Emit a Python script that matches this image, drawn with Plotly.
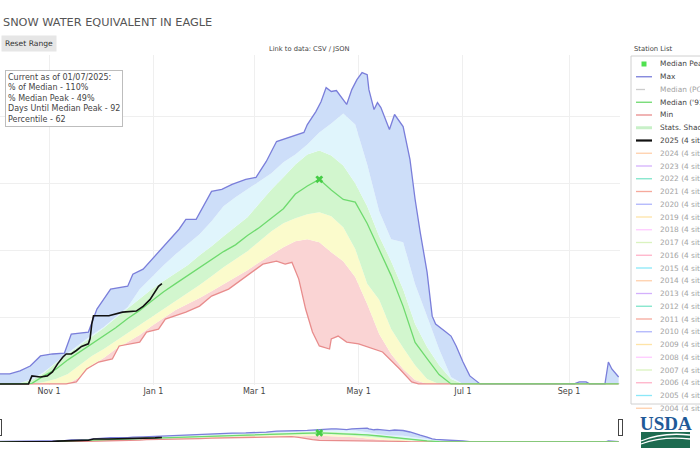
import plotly.graph_objects as go

# ---------------- data (inches of SWE) ----------------
band_dates = ["2024-10-01", "2024-10-08", "2024-10-15", "2024-10-22", "2024-10-29",
              "2024-11-05", "2024-11-12", "2024-11-19", "2024-11-26", "2024-12-03",
              "2024-12-10", "2024-12-17", "2024-12-24", "2024-12-31", "2025-01-07",
              "2025-01-14", "2025-01-21", "2025-01-28", "2025-02-04", "2025-02-11",
              "2025-02-18", "2025-02-25", "2025-03-04", "2025-03-11", "2025-03-18",
              "2025-03-25", "2025-04-01", "2025-04-08", "2025-04-15", "2025-04-22",
              "2025-04-29", "2025-05-06", "2025-05-13", "2025-05-20", "2025-05-27",
              "2025-06-03", "2025-06-10", "2025-06-17", "2025-06-24", "2025-07-01",
              "2025-07-08", "2025-09-30"]
p10 = [0, 0, 0, 0, 0, 0, 0, 0.52, 1.42, 1.94, 2.61, 3.13, 3.66, 4.33, 4.93,
       5.52, 5.97, 6.42, 6.94, 7.46, 7.99, 8.51, 9.1, 9.63, 10.22, 10.67, 10.82,
       10.6, 9.85, 9.18, 7.99, 5.97, 3.73, 2.24, 1.12, 0.3, 0, 0, 0, 0, 0, 0]
p30 = [0, 0, 0, 0, 0.15, 0.37, 0.75, 1.42, 2.09, 2.61, 3.21, 3.81, 4.4, 5.0, 5.6,
       6.19, 6.79, 7.39, 8.06, 8.73, 9.33, 9.93, 10.67, 11.42, 12.01, 12.39, 12.69,
       12.84, 12.54, 11.72, 10.1, 7.5, 6.3, 4.1, 2.7, 1.4, 0.37, 0, 0, 0, 0, 0]
median = [0, 0, 0, 0.04, 0.6, 1.1, 1.8, 2.4, 3.0, 3.6, 4.2, 4.9, 5.5, 6.2, 6.9,
          7.5, 8.1, 8.7, 9.3, 9.9, 10.4, 11.1, 11.7, 12.4, 13.1, 14.2, 14.8,
          15.3, 14.5, 13.8, 13.6, 12.0, 10.1, 8.1, 5.8, 3.1, 1.9, 0.7, 0, 0, 0, 0]
p70 = [0, 0, 0.07, 0.3, 0.82, 1.57, 2.24, 2.91, 3.58, 4.18, 4.93, 5.67, 6.34, 7.09, 7.69,
       8.28, 8.88, 9.63, 10.3, 11.04, 11.72, 12.46, 13.51, 14.55, 15.45, 16.42, 17.16,
       17.46, 17.09, 16.34, 15.0, 13.28, 11.04, 9.18, 7.09, 4.48, 2.76, 1.42, 0.37, 0, 0, 0]
p90 = [0, 0, 0.07, 0.37, 0.9, 1.64, 2.31, 2.99, 3.66, 4.25, 5.0, 5.75, 7.09, 7.99, 8.88,
       9.7, 10.45, 11.19, 12.16, 13.28, 13.96, 14.55, 15.15, 15.75, 16.57, 17.16, 17.91,
       18.81, 19.48, 20.22, 19.4, 16.42, 12.91, 10.82, 10.6, 7.46, 5.07, 2.61, 0.52, 0, 0, 0]

max_dates = ["2024-10-01", "2024-10-03", "2024-10-09", "2024-10-15", "2024-10-21", "2024-10-27",
             "2024-11-03", "2024-11-10", "2024-11-14", "2024-11-24", "2024-11-29", "2024-12-03",
             "2024-12-07", "2024-12-17", "2024-12-20", "2024-12-26", "2025-01-03", "2025-01-10",
             "2025-01-16", "2025-01-20", "2025-01-26", "2025-02-04", "2025-02-10", "2025-02-16",
             "2025-02-24", "2025-03-02", "2025-03-08", "2025-03-14", "2025-03-21", "2025-03-27",
             "2025-03-30", "2025-04-01", "2025-04-06", "2025-04-09", "2025-04-11", "2025-04-12",
             "2025-04-15", "2025-04-18", "2025-04-24", "2025-04-27", "2025-04-30", "2025-05-03",
             "2025-05-06", "2025-05-07", "2025-05-10", "2025-05-12", "2025-05-14", "2025-05-16",
             "2025-05-19", "2025-05-22", "2025-05-25", "2025-05-27", "2025-05-31", "2025-06-03",
             "2025-06-06", "2025-06-10", "2025-06-13", "2025-06-15", "2025-06-21", "2025-06-24",
             "2025-06-27", "2025-07-01", "2025-07-05", "2025-07-11", "2025-09-04", "2025-09-07",
             "2025-09-11", "2025-09-13", "2025-09-22", "2025-09-24", "2025-09-26", "2025-09-30"]
max_vals = [0.7, 0.75, 0.75, 0.97, 1.34, 2.09,
            2.24, 2.31, 3.73, 3.88, 5.6, 6.34,
            7.09, 7.31, 8.21, 8.58, 9.7, 10.67,
            11.57, 12.31, 12.31, 14.4, 14.55, 14.93,
            15.3, 15.45, 16.64, 18.13, 18.43, 18.66,
            18.81, 19.4, 20.37, 21.1, 21.87, 22.16,
            21.87, 21.94, 20.9, 22.01, 22.76, 23.28,
            23.13, 22.01, 20.52, 21.04, 20.67, 20.0,
            19.03, 20.15, 19.63, 19.25, 16.79, 13.81,
            11.34, 8.36, 5.07, 4.48, 3.88, 3.58,
            2.84, 1.64, 0.6, 0, 0, 0.15,
            0.15, 0, 0, 1.64, 1.12, 0.52]

min_dates = ["2024-10-01", "2024-11-11", "2024-11-17", "2024-11-23", "2024-11-30", "2024-12-08",
             "2024-12-12", "2024-12-24", "2024-12-28", "2025-01-04", "2025-01-08", "2025-01-20",
             "2025-01-28", "2025-02-04", "2025-02-14", "2025-02-24", "2025-03-06", "2025-03-14",
             "2025-03-19", "2025-03-23", "2025-03-27", "2025-03-31", "2025-04-04", "2025-04-08",
             "2025-04-14", "2025-04-15", "2025-04-19", "2025-04-24", "2025-05-01", "2025-05-15",
             "2025-05-25", "2025-06-01", "2025-06-05", "2025-09-30"]
min_vals = [0, 0, 0.15, 1.12, 1.64, 1.87,
            2.84, 3.13, 3.88, 4.1, 4.85, 5.37,
            5.82, 6.57, 7.09, 8.06, 8.96, 9.18,
            8.96, 9.1, 7.84, 5.6, 3.88, 2.84,
            2.61, 3.36, 3.58, 3.13, 2.99, 2.39,
            1.12, 0.15, 0, 0]

wy2025_dates = ["2024-10-01", "2024-10-20", "2024-10-22", "2024-10-27", "2024-10-31", "2024-11-03",
                "2024-11-06", "2024-11-09", "2024-11-11", "2024-11-14", "2024-11-17", "2024-11-20",
                "2024-11-24", "2024-11-25", "2024-11-26", "2024-11-27", "2024-12-06", "2024-12-14",
                "2024-12-22", "2024-12-26", "2024-12-30", "2025-01-02", "2025-01-04", "2025-01-06"]
wy2025_vals = [0, 0, 0.6, 0.52, 0.6, 0.9,
               1.5, 2.0, 2.24, 2.24, 2.5, 2.8,
               3.0, 3.4, 4.5, 5.1, 5.1, 5.37,
               5.45, 5.8, 6.3, 6.9, 7.3, 7.5]

median_peak_date = ["2025-04-08"]
median_peak_val = [15.3]

tick_dates = ["2024-11-01", "2025-01-01", "2025-03-01", "2025-05-01", "2025-07-01", "2025-09-01"]
tick_text = ["Nov 1", "Jan 1", "Mar 1", "May 1", "Jul 1", "Sep 1"]

info_lines = ["Current as of 01/07/2025:", "% of Median - 110%", "% Median Peak - 49%",
              "Days Until Median Peak - 92", "Percentile - 62"]
years_hidden = list(range(2024, 2003, -1))

# ---------------- styling ----------------
FONT = "DejaVu Sans"
C_MAX = "rgb(122,126,218)"
C_MED = "rgb(110,218,110)"
C_MIN = "rgb(232,140,140)"
F_BLUE = "rgb(205,222,249)"
F_CYAN = "rgb(224,245,252)"
F_GREEN = "rgb(210,246,206)"
F_YELLOW = "rgb(251,251,204)"
F_RED = "rgb(250,212,212)"
COLORWAY = ["#636efa", "#EF553B", "#00cc96", "#ab63fa", "#FFA15A",
            "#19d3f3", "#FF6692", "#B6E880", "#FF97FF", "#FECB52"]

X_RANGE = ["2024-10-03 08:00", "2025-09-30 19:00"]
Y_RANGE = [-0.08, 24.6]
SLIDER_Y_RANGE = [0, 52]

fig = go.Figure()
fig.add_trace(go.Scatter(x=min_dates, y=min_vals, mode="lines", line=dict(width=0, color=C_MIN),
                         hoverinfo="skip", showlegend=False))
for vals, col in [(p10, F_RED), (p30, F_YELLOW), (p70, F_GREEN), (p90, F_CYAN)]:
    fig.add_trace(go.Scatter(x=band_dates, y=vals, mode="lines", line=dict(width=0),
                             fill="tonexty", fillcolor=col, hoverinfo="skip", showlegend=False))
fig.add_trace(go.Scatter(x=max_dates, y=max_vals, mode="lines", name="Max",
                         line=dict(width=1.3, color=C_MAX), fill="tonexty", fillcolor=F_BLUE,
                         showlegend=False))
fig.add_trace(go.Scatter(x=min_dates, y=min_vals, mode="lines", name="Min",
                         line=dict(width=1.3, color=C_MIN), showlegend=False))
fig.add_trace(go.Scatter(x=band_dates, y=median, mode="lines", name="Median ('91-'20)",
                         line=dict(width=1.3, color=C_MED), showlegend=False))
fig.add_trace(go.Scatter(x=wy2025_dates, y=wy2025_vals, mode="lines", name="2025 (4 sites)",
                         line=dict(width=1.6, color="#111"), showlegend=False))
fig.add_trace(go.Scatter(x=median_peak_date, y=median_peak_val, mode="markers", name="Median Peak",
                         marker=dict(symbol="x", size=7, color="rgb(70,205,70)"), showlegend=False))

# pixel -> paper helpers for layout decorations
PW, PT, PB = 620.0, 55.0, 385.0
def XP(px):
    return px / PW
def YP(py):
    return (PB - py) / (PB - PT)

shapes = []
annotations = []

# legend panel
shapes.append(dict(type="rect", xref="paper", yref="paper", x0=XP(631), x1=XP(712),
                   y0=YP(404), y1=YP(56), line=dict(color="#d0d0d0", width=1),
                   fillcolor="white", layer="above"))
annotations.append(dict(text="Station List", xref="paper", yref="paper", x=XP(632), y=YP(49),
                        xanchor="left", yanchor="middle", showarrow=False,
                        font=dict(family=FONT, size=6.8, color="#444")))

legend_rows = [("Median Peak", "marker", "rgb(80,225,80)", False),
               ("Max", "line", C_MAX, False),
               ("Median (POR)", "dash", "#9a9a9a", True),
               ("Median ('91-'20)", "line", C_MED, False),
               ("Min", "line", C_MIN, False),
               ("Stats. Shading", "thick", "rgb(200,240,200)", False),
               ("2025 (4 sites)", "bold", "#111", False)]
for yr in years_hidden:
    legend_rows.append((f"{yr} (4 sites)", "line", COLORWAY[(yr - 2000) % 10], True))

for i, (label, kind, col, faded) in enumerate(legend_rows):
    py = 64 + 12.75 * i
    op = 0.5 if faded else 1.0
    if kind == "marker":
        shapes.append(dict(type="rect", xref="paper", yref="paper", x0=XP(641.5), x1=XP(646.5),
                           y0=YP(py + 2.5), y1=YP(py - 2.5), line=dict(width=0), fillcolor=col,
                           layer="above"))
    else:
        w = {"line": 1.3, "dash": 1.3, "thick": 3, "bold": 2.2}[kind]
        shapes.append(dict(type="line", xref="paper", yref="paper", x0=XP(636), x1=XP(652),
                           y0=YP(py), y1=YP(py), opacity=op,
                           line=dict(color=col, width=w, dash="dash" if kind == "dash" else "solid"),
                           layer="above"))
    annotations.append(dict(text=label, xref="paper", yref="paper", x=XP(658), y=YP(py),
                            xanchor="left", yanchor="middle", showarrow=False,
                            font=dict(family=FONT, size=7.4, color="#a3a3a3" if faded else "#444")))

# info box
annotations.append(dict(text="<br>".join(info_lines), xref="paper", yref="paper",
                        x=XP(5), y=YP(70), xanchor="left", yanchor="top", align="left",
                        showarrow=False, bordercolor="#bdbdbd", borderwidth=1, borderpad=2,
                        bgcolor="white", font=dict(family=FONT, size=8, color="#444")))
# reset range button
annotations.append(dict(text="Reset Range", xref="paper", yref="paper", x=XP(1), y=YP(44),
                        xanchor="left", yanchor="middle", showarrow=False, bgcolor="#e6e6e6",
                        borderpad=3, font=dict(family=FONT, size=7.6, color="#333")))
# data link
annotations.append(dict(text="Link to data: CSV / JSON", xref="paper", yref="paper",
                        x=XP(267), y=YP(49), xanchor="left", yanchor="middle", showarrow=False,
                        font=dict(family=FONT, size=6.7, color="#444")))
# USDA logo
annotations.append(dict(text="<b>USDA</b>", xref="paper", yref="paper", x=XP(665.5), y=YP(423),
                        xanchor="center", yanchor="middle", showarrow=False,
                        font=dict(family="Liberation Serif", size=19, color="#1f5a98")))
shapes.append(dict(type="rect", xref="paper", yref="paper", x0=XP(641), x1=XP(690),
                   y0=YP(448), y1=YP(432), line=dict(width=0), fillcolor="#1d6b50", layer="above"))
for (a, b, c) in [(441, 432, 435), (444, 436, 439)]:
    shapes.append(dict(type="path", xref="paper", yref="paper",
                       path=f"M {XP(641)},{YP(a)} Q {XP(662)},{YP(b)} {XP(690)},{YP(c)}",
                       line=dict(color="white", width=1.3), layer="above"))

fig.update_layout(
    width=700, height=450,
    margin=dict(l=0, r=80, t=55, b=65, pad=0, autoexpand=False),
    paper_bgcolor="white", plot_bgcolor="white",
    font=dict(family=FONT, size=8, color="#444"),
    title=dict(text="SNOW WATER EQUIVALENT IN EAGLE", xref="container", yref="container",
               x=3 / 700, y=1 - 22 / 450, xanchor="left", yanchor="middle",
               font=dict(family=FONT, size=11.3, color="#555")),
    showlegend=False,
    shapes=shapes, annotations=annotations,
    xaxis=dict(type="date", range=X_RANGE, autorange=False,
               tickvals=tick_dates, ticktext=tick_text, ticks="",
               showgrid=True, gridcolor="#efefef", gridwidth=1, zeroline=False, showline=False,
               tickfont=dict(family=FONT, size=8, color="#444"),
               rangeslider=dict(visible=True, range=X_RANGE, autorange=False, thickness=0.094,
                                bgcolor="white", borderwidth=0,
                                yaxis=dict(rangemode="fixed", range=SLIDER_Y_RANGE))),
    yaxis=dict(range=Y_RANGE, dtick=5, tick0=0, showticklabels=False, ticks="",
               showgrid=True, gridcolor="#efefef", gridwidth=1, zeroline=False, fixedrange=True),
)

# page tweaks: no body margin, and no grey "visible y-range" shading inside the range slider
post = ("document.body.style.margin='0px';"
        "var st=document.createElement('style');"
        "st.innerHTML='rect[class*=\"opp-axis\"]{display:none !important;}';"
        "document.head.appendChild(st);")

fig.write_html("out.html", config={"displayModeBar": False}, post_script=post)
